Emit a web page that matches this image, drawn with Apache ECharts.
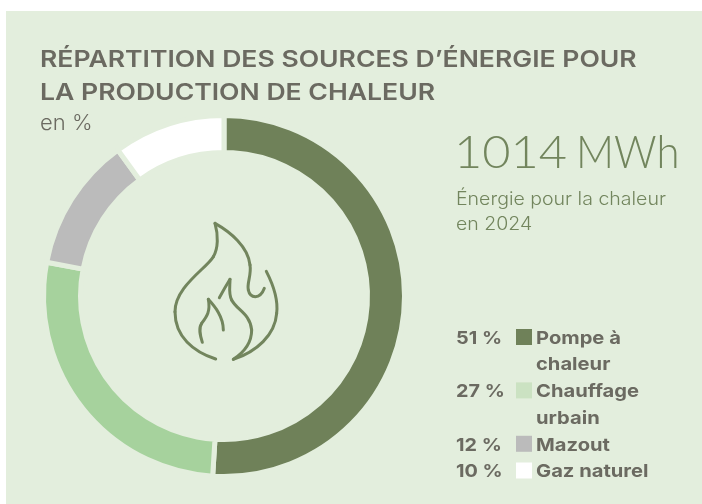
<!DOCTYPE html>
<html>
<head>
<meta charset="utf-8">
<script src="https://cdn.jsdelivr.net/npm/echarts@6/dist/echarts.min.js"></script>
<style>
  html, body { margin: 0; padding: 0; background: #fff; }
  #chart { width: 702px; height: 504px; }
</style>
</head>
<body>
<div id="chart"></div>
<script>
var sources = ['Pompe à chaleur', 'Chauffage urbain', 'Mazout', 'Gaz naturel'];
var shares = [51, 27, 12, 10];
var shareLabels = ['51 %', '27 %', '12 %', '10 %'];
var legendLabels = ['Pompe à\nchaleur', 'Chauffage\nurbain', 'Mazout', 'Gaz naturel'];
var ringColors = ['#6f8159', '#a6d29d', '#bbbbbb', '#ffffff'];
var legendColors = ['#6f8159', '#cbe2c2', '#bbbbbb', '#ffffff'];

var panelColor = '#e3eedd';
var textColor = '#6b6a61';
var greenText = '#72855d';
var fontName = 'Inter, "Liberation Sans", sans-serif';

// icono de la llama: cada trazo es x0 y0 y luego tramos cubicos
var flameStrokes = [
    [197, 477, 130, 455, 75, 410, 75, 335, 75, 260, 170, 205, 190, 170, 205, 145, 205, 105, 195, 70, 240, 95, 295, 140, 300, 195, 305, 225, 290, 250, 295, 270, 300, 295, 330, 300, 343, 265],
    [349, 214, 370, 255, 385, 300, 380, 340, 375, 405, 320, 455, 250, 478, 285, 455, 305, 425, 305, 390, 300, 340, 260, 330, 245, 300, 235, 280, 240, 260, 240, 238, 229, 256, 218, 275, 208, 293],
    [157, 427, 150, 405, 145, 385, 155, 370, 170, 350, 182, 335, 175, 298, 195, 320, 220, 350, 220, 390]
];

var graphics = [
    { type: 'rect', z: -10, shape: { x: 6, y: 11, width: 696, height: 493 }, style: { fill: panelColor } },
    { type: 'text', x: 40, y: 44, scaleX: 1.155, style: { text: 'RÉPARTITION DES SOURCES D’ÉNERGIE POUR\nLA PRODUCTION DE CHALEUR', font: '600 23px ' + fontName, fill: textColor, lineHeight: 33 } },
    { type: 'text', x: 40, y: 134, style: { text: 'en %', font: '300 22px ' + fontName, fill: textColor, textVerticalAlign: 'bottom' } },
    { type: 'text', x: 454, y: 130, scaleX: 1.06, style: { text: '1014', font: '300 46px Lato, ' + fontName, fill: greenText } },
    { type: 'text', x: 576, y: 130, scaleX: 0.91, style: { text: 'MWh', font: '300 46px Lato, ' + fontName, fill: greenText } },
    { type: 'text', x: 456, y: 187, scaleX: 1.085, style: { text: 'Énergie pour la chaleur\nen 2024', font: '300 18px ' + fontName, fill: greenText, lineHeight: 25 } }
];

flameStrokes.forEach(function (p) {
    for (var i = 0; i + 7 < p.length; i += 6) {
        graphics.push({
            type: 'bezierCurve', x: 150, y: 200, scaleX: 1 / 3, scaleY: 1 / 3,
            shape: { x1: p[i], y1: p[i + 1], cpx1: p[i + 2], cpy1: p[i + 3], cpx2: p[i + 4], cpy2: p[i + 5], x2: p[i + 6], y2: p[i + 7] },
            style: { fill: 'none', stroke: greenText, lineWidth: 9, lineCap: 'round' }
        });
    }
});

// leyenda a mano: el nombre de dos lineas queda alineado arriba con el cuadrado
var rowTop = 324;
var rowHeight = 26.7;
sources.forEach(function (name, i) {
    graphics.push({ type: 'text', x: 456, y: rowTop + 1, scaleX: 1.1, style: { text: shareLabels[i], font: '700 18px ' + fontName, fill: textColor, lineHeight: rowHeight } });
    graphics.push({ type: 'rect', shape: { x: 516, y: rowTop + 5, width: 16, height: 16 }, style: { fill: legendColors[i] } });
    graphics.push({ type: 'text', x: 536, y: rowTop + 1, scaleX: 1.12, style: { text: legendLabels[i], font: '700 18px ' + fontName, fill: textColor, lineHeight: rowHeight } });
    rowTop += rowHeight * legendLabels[i].split('\n').length;
});

var chart = echarts.init(document.getElementById('chart'));
chart.setOption({
    animation: false,
    graphic: graphics,
    series: [{
        type: 'pie',
        center: [224, 296],
        radius: [143.5, 180.5],
        startAngle: 90,
        clockwise: true,
        silent: true,
        label: { show: false },
        labelLine: { show: false },
        itemStyle: { borderColor: panelColor, borderWidth: 5 },
        data: sources.map(function (name, i) {
            return { name: name, value: shares[i], itemStyle: { color: ringColors[i] } };
        })
    }]
});
</script>
</body>
</html>
